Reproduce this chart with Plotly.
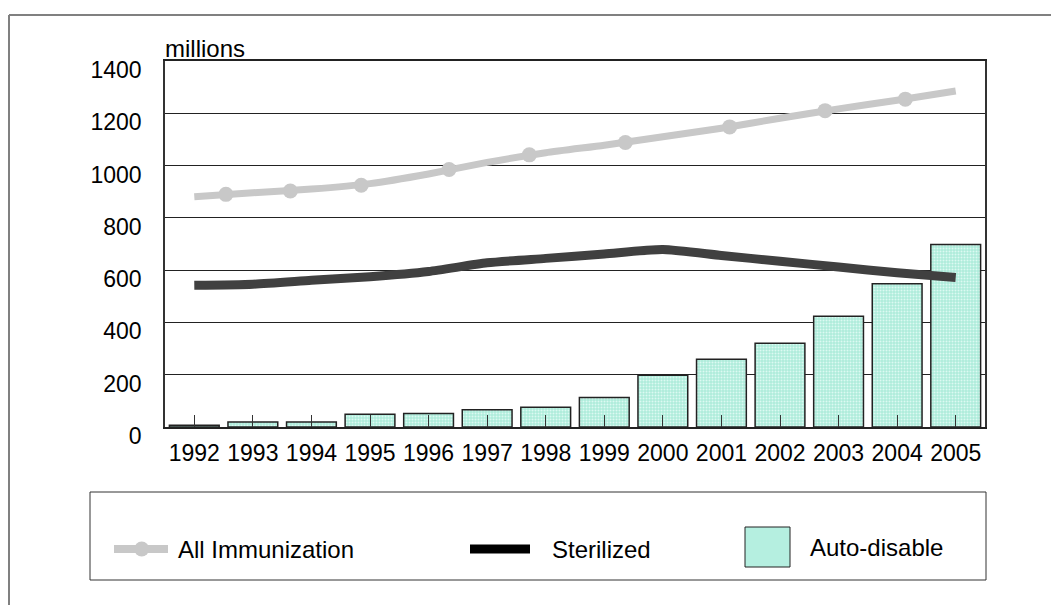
import plotly.graph_objects as go

# Syringe use, millions per year
years = [1992, 1993, 1994, 1995, 1996, 1997, 1998, 1999, 2000, 2001, 2002, 2003, 2004, 2005]
year_labels = [str(y) for y in years]
auto_disable = [7, 19, 19, 49, 52, 66, 76, 113, 198, 259, 320, 424, 548, 698]
all_immunization = [881, 896, 910, 931, 968, 1012, 1049, 1078, 1110, 1143, 1181, 1217, 1250, 1285]
sterilized = [542, 546, 561, 575, 595, 628, 645, 662, 679, 656, 634, 612, 590, 572]

# Point markers along the "All Immunization" curve
marker_years = [1992.54, 1993.64, 1994.85, 1996.35, 1997.72, 1999.36, 2001.14, 2002.77, 2004.14]
marker_values = [890, 903, 925, 985, 1041, 1088, 1148, 1210, 1254]

y_ticks = [0, 200, 400, 600, 800, 1000, 1200, 1400]

FONT = "Liberation Sans, Arial, sans-serif"
GRAY = "#c8c8c8"
DARK = "#404040"
TEAL = "#b5efe0"

W, H = 1051, 605
L, R, T, B = 165, 985, 61, 427


def px(x):
    return (x - L) / (R - L)


def py(y):
    return (B - y) / (B - T)


fig = go.Figure()

fig.add_trace(go.Bar(
    x=years, y=auto_disable, width=0.85, name="Auto-disable",
    marker=dict(
        color=TEAL,
        line=dict(color="#222222", width=1.5),
        pattern=dict(shape=".", fgcolor="#dcfaf2", bgcolor="#aeecdb",
                     size=3, solidity=0.35, fillmode="replace"),
    ),
    showlegend=False,
))

fig.add_trace(go.Scatter(
    x=years, y=all_immunization, mode="lines", name="All Immunization",
    line=dict(color=GRAY, width=7, shape="spline", smoothing=0.6),
    showlegend=False,
))
fig.add_trace(go.Scatter(
    x=marker_years, y=marker_values, mode="markers", name="All Immunization",
    marker=dict(color=GRAY, size=15, line=dict(width=0)),
    showlegend=False,
))
fig.add_trace(go.Scatter(
    x=years, y=sterilized, mode="lines", name="Sterilized",
    line=dict(color=DARK, width=9, shape="spline", smoothing=0.6),
    showlegend=False,
))

shapes = [
    # outer frame (top and left edges)
    dict(type="line", xref="paper", yref="paper", x0=px(9), y0=py(15), x1=px(1060), y1=py(15),
         line=dict(color="#808080", width=2)),
    dict(type="line", xref="paper", yref="paper", x0=px(9), y0=py(15), x1=px(9), y1=py(620),
         line=dict(color="#808080", width=2)),
    # legend box
    dict(type="rect", xref="paper", yref="paper", x0=px(90), y0=py(492), x1=px(986), y1=py(580),
         line=dict(color="#333333", width=1), fillcolor="rgba(0,0,0,0)"),
    # legend symbols
    dict(type="line", xref="paper", yref="paper", x0=px(114), y0=py(549), x1=px(168), y1=py(549),
         line=dict(color=GRAY, width=8)),
    dict(type="circle", xref="paper", yref="paper", x0=px(134.2), y0=py(541.5), x1=px(149.2), y1=py(556.5),
         line=dict(width=0), fillcolor=GRAY),
    dict(type="line", xref="paper", yref="paper", x0=px(470), y0=py(549), x1=px(530), y1=py(549),
         line=dict(color="#000000", width=9)),
    dict(type="rect", xref="paper", yref="paper", x0=px(745), y0=py(527), x1=px(790), y1=py(567),
         line=dict(color="#222222", width=1), fillcolor=TEAL),
]

annotations = [
    dict(text="millions", xref="paper", yref="paper", x=px(163), y=py(48),
         xanchor="left", yanchor="middle", showarrow=False, font=dict(size=24, color="#000")),
    dict(text="All Immunization", xref="paper", yref="paper", x=px(176), y=py(549),
         xanchor="left", yanchor="middle", showarrow=False, font=dict(size=24, color="#000")),
    dict(text="Sterilized", xref="paper", yref="paper", x=px(550), y=py(549),
         xanchor="left", yanchor="middle", showarrow=False, font=dict(size=24, color="#000")),
    dict(text="Auto-disable", xref="paper", yref="paper", x=px(808), y=py(547),
         xanchor="left", yanchor="middle", showarrow=False, font=dict(size=24, color="#000")),
]

fig.update_layout(
    width=W, height=H, autosize=False,
    margin=dict(l=L, r=W - R, t=T, b=H - B, pad=0),
    paper_bgcolor="white", plot_bgcolor="white",
    font=dict(family=FONT, color="#000000"),
    shapes=shapes, annotations=annotations,
    showlegend=False,
    xaxis=dict(
        range=[1991.5, 2005.5], tickmode="array", tickvals=years, ticktext=year_labels,
        ticks="inside", ticklen=12, tickwidth=1, tickcolor="#333333",
        showgrid=False, zeroline=False,
        showline=True, linecolor="#222222", linewidth=1.5, mirror=True,
        tickfont=dict(size=23, color="#000"), ticklabelstandoff=5,
    ),
    yaxis=dict(
        range=[0, 1400], tickmode="array", tickvals=y_ticks,
        ticks="", showgrid=True, gridcolor="#222222", gridwidth=1, zeroline=False,
        showline=True, linecolor="#333333", linewidth=1.5, mirror=True,
        tickfont=dict(size=23, color="#000"), ticklabelstandoff=17, ticklabelshift=9,
    ),
)

fig.write_html("out.html")
